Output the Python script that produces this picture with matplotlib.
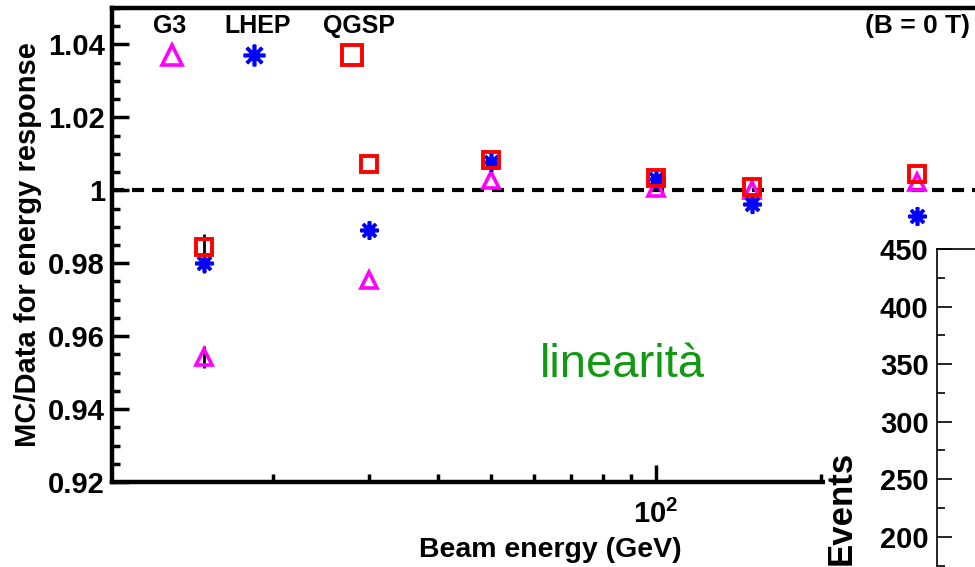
#!/usr/bin/env python3

import matplotlib
matplotlib.use('Agg')
import matplotlib.pyplot as plt
from matplotlib.ticker import LogLocator, NullFormatter, MultipleLocator
from matplotlib.patches import Rectangle

plt.rcParams['font.family'] = ['Liberation Sans', 'DejaVu Sans']
plt.rcParams['font.weight'] = 'bold'
plt.rcParams['mathtext.fontset'] = 'custom'
plt.rcParams['mathtext.bf'] = 'Liberation Sans:bold'
plt.rcParams['mathtext.rm'] = 'Liberation Sans:bold'

# beam energies (GeV) and MC/Data ratios per physics list
energies = [15, 30, 50, 100, 150, 300]
g3 = [0.9543, 0.9754, 1.0027, 1.0005, 1.0000, 1.0022]
g3_err = [0.0030, 0.0, 0.0, 0.0, 0.0, 0.0]
lhep = [0.9800, 0.9892, 1.0079, 1.0031, 0.9962, 0.9929]
lhep_err = [0.0027, 0.0, 0.0, 0.0, 0.0, 0.0]
qgsp = [0.9845, 1.0071, 1.0082, 1.0033, 1.0008, 1.0045]
qgsp_err = [0.0036, 0.0, 0.0, 0.0, 0.0, 0.0]

labels = ['G3', 'LHEP', 'QGSP']
inset_yticks = [200, 250, 300, 350, 400, 450]

MAGENTA = '#ff00ff'
BLUE = '#0000ff'
RED = '#ff0000'

styles = [
    dict(marker='^', ms=12, mew=2.6, mfc='none', mec=MAGENTA),
    dict(marker=(8, 2, 0), ms=13, mew=2.6, mec=BLUE, mfc=BLUE),
    dict(marker='s', ms=11.5, mew=2.8, mfc='none', mec=RED),
]

fig = plt.figure(figsize=(9.75, 5.67), dpi=100)
ax = fig.add_axes([112/975, 1 - 482/567, 898/975, 474/567])
ax.set_zorder(0)

ax.set_xscale('log')
ax.set_xlim(10.17, 443)
ax.set_ylim(0.92, 1.05)

ax.axhline(1.0, color='black', lw=3, linestyle=(0, (2.9, 1.9)), zorder=1)

for vals, errs, st in zip([g3, lhep, qgsp], [g3_err, lhep_err, qgsp_err], styles):
    # only the low-energy points have error bars larger than the marker
    ex = [e for e, er in zip(energies, errs) if er > 0]
    ey = [v for v, er in zip(vals, errs) if er > 0]
    ee = [er for er in errs if er > 0]
    ax.errorbar(ex, ey, yerr=ee, fmt='none', ecolor='black',
                elinewidth=2, capsize=0, zorder=2)
    ax.plot(energies, vals, linestyle='none', zorder=3, **st)

# legend: name on top, marker underneath
text_x = [0.0646, 0.162, 0.275]
mark_x = [0.0668, 0.158, 0.2673]
for lab, tx, mx, st in zip(labels, text_x, mark_x, styles):
    ax.text(tx, 0.961, lab, transform=ax.transAxes, ha='center', va='center',
            fontsize=18, fontweight='bold')
    big = dict(st)
    big['ms'] = st['ms'] * 1.2
    ax.plot([mx], [0.9008], transform=ax.transAxes, linestyle='none',
            clip_on=False, **big)

ax.text(0.8385, 0.961, '(B = 0 T)', transform=ax.transAxes, ha='left',
        va='center', fontsize=19, fontweight='bold')

ax.set_xticks([100], [r'$\mathbf{10^{2}}$'])
ax.xaxis.set_minor_locator(LogLocator(base=10, subs=range(2, 10)))
ax.xaxis.set_minor_formatter(NullFormatter())
ax.set_yticks([0.92, 0.94, 0.96, 0.98, 1.0, 1.02, 1.04],
              ['0.92', '0.94', '0.96', '0.98', '1', '1.02', '1.04'])
ax.yaxis.set_minor_locator(MultipleLocator(0.005))

ax.tick_params(which='both', direction='in', width=2.5,
               top=False, right=False)
ax.tick_params(axis='y', labelsize=21, pad=5)
ax.tick_params(axis='x', labelsize=21, pad=13)
ax.tick_params(which='major', length=12)
ax.tick_params(which='minor', length=6)

for side in ['left', 'bottom', 'top', 'right']:
    ax.spines[side].set_linewidth(3.2)

ax.set_xlabel('Beam energy (GeV)', fontsize=20.5, fontweight='bold')
ax.xaxis.set_label_coords(0.4878, -0.117)
ax.set_ylabel('MC/Data for energy response', fontsize=21, fontweight='bold')
ax.yaxis.set_label_coords(-0.078, 0.5)

# white panel of the neighbouring histogram
fig.patches.append(Rectangle((825/975, 0), 1, 1 - 228/567, transform=fig.transFigure,
                             facecolor='white', edgecolor='none', zorder=1))

axin = fig.add_axes([937/975, 1 - 249/567 - 518/567, 420/975, 518/567])
axin.set_zorder(2)
axin.set_ylim(0, 450)
axin.set_xlim(0, 1)
axin.set_xticks([])
axin.set_yticks(inset_yticks, [str(v) for v in inset_yticks])
axin.yaxis.set_minor_locator(MultipleLocator(25))
axin.tick_params(which='both', direction='in', width=1.2, labelsize=21, pad=6)
axin.tick_params(which='major', length=11)
axin.tick_params(which='minor', length=5.5)
for side in ['left', 'top', 'right', 'bottom']:
    axin.spines[side].set_linewidth(1.2)
axin.set_ylabel('Events', fontsize=25, fontweight='bold')
axin.yaxis.set_label_coords(-0.19, 0.5)

fig.text(622/975, 1 - 377/567, 'linearità', ha='center', va='baseline',
         fontsize=34, fontweight='normal', color='#129912', zorder=5)

fig.savefig('out.png', dpi=100)
